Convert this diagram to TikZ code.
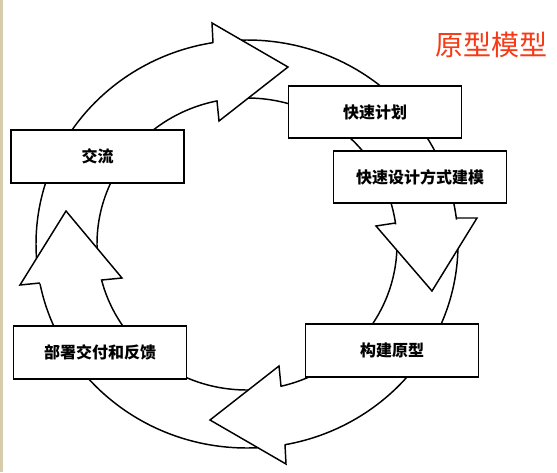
\documentclass[tikz,border=0pt]{standalone}
\usepackage{fontspec}
\newfontfamily\cjk{Noto Sans CJK SC}
\definecolor{titlered}{RGB}{246,58,22}
\definecolor{strip}{RGB}{214,204,172}
\begin{document}
\begin{tikzpicture}[x=0.75pt,y=-0.75pt,
  ring/.style={draw=black,line width=1.1pt},
  headfill/.style={fill=white,draw=none},
  headline/.style={draw=black,line width=1.1pt,line join=miter},
  stagebox/.style={draw=black,fill=white,line width=1.3pt,rectangle,
    minimum width=129.75pt,minimum height=39.5pt,inner sep=0pt,
    font=\cjk\bfseries\fontsize{12pt}{14pt}\selectfont},
  titletext/.style={text=titlered,inner sep=0pt,font=\cjk\fontsize{21pt}{24pt}\selectfont}]
\useasboundingbox (0,0) rectangle (557,472);
\fill[white] (0,0) rectangle (557,472);
\fill[strip] (0,0) rectangle (2.8,472);
% ring
\draw[ring] (247,244) ellipse [x radius=211, y radius=204];
\draw[ring] (247,244) ellipse [x radius=150, y radius=146];
% arrow heads
\fill[headfill] (212,23) -- (288,67) -- (219,121) -- cycle;
\draw[headline] (213,42.7) -- (212,23) -- (288,67) -- (219,121) -- (217,101);
\fill[headfill] (376,226) -- (432,291) -- (477,218) -- cycle;
\draw[headline] (395.4,223) -- (376,226) -- (432,291) -- (477,218) -- (456.3,218);
\fill[headfill] (279,366) -- (210,420) -- (286,464) -- cycle;
\draw[headline] (281,386.2) -- (279,366) -- (210,420) -- (286,464) -- (285,444.7);
\fill[headfill] (20,285) -- (66,211) -- (122,278) -- cycle;
\draw[headline] (39.9,283) -- (20,285) -- (66,211) -- (122,278) -- (101.6,280);
% boxes
\node[stagebox] (jl) at (97.5,156.5) {交流};
\node[stagebox] (jh) at (375,112) {快速计划};
\node[stagebox] (sj) at (420,177) {快速设计方式建模};
\node[stagebox] (gj) at (392,350.5) {构建原型};
\node[stagebox] (bs) at (100,352.5) {部署交付和反馈};
% title
\node[titletext] (title) at (491.5,45) {原型模型};
\end{tikzpicture}
\end{document}
